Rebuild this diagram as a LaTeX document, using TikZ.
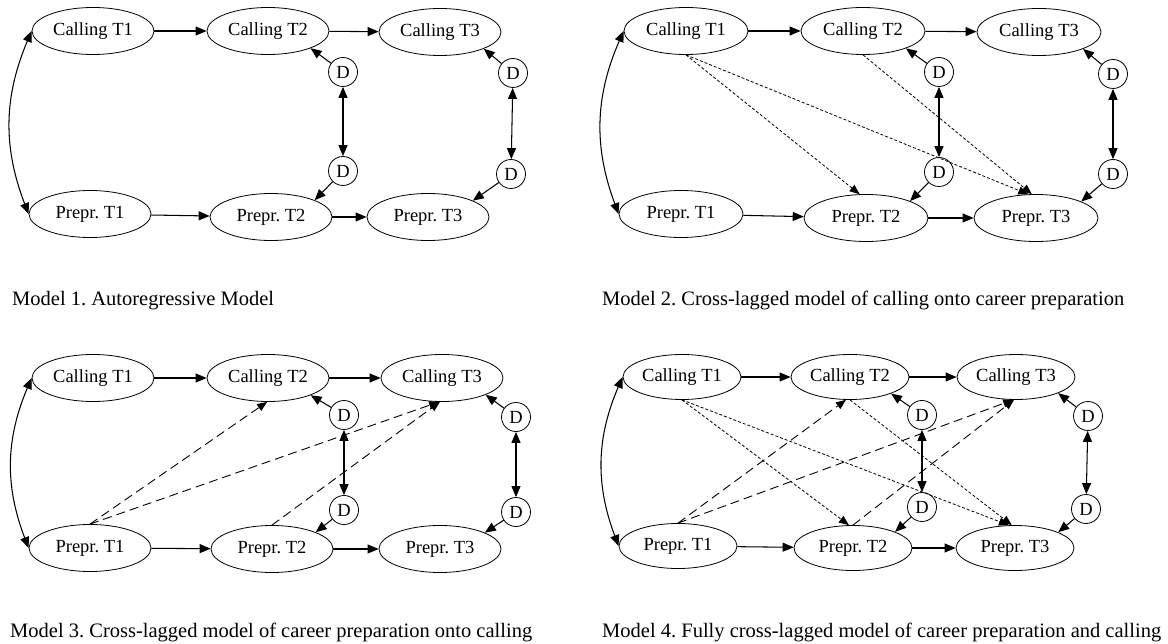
\documentclass[tikz,border=0pt]{standalone}
\usepackage{fontspec}
\setmainfont{Liberation Serif}
\usetikzlibrary{shapes.geometric,arrows.meta}
\frenchspacing
\begin{document}
\begin{tikzpicture}[x=1pt,y=-1pt,
  varnode/.style={ellipse,draw,line width=0.8pt,minimum width=122pt,minimum height=47pt,inner sep=0pt,font=\fontsize{18.5}{22}\selectfont},
  dnode/.style={circle,draw,line width=0.8pt,minimum size=29pt,inner sep=0pt,font=\fontsize{18.5}{22}\selectfont},
  pathar/.style={line width=1.05pt,-{Triangle[length=11pt,width=9pt]}},
  cov/.style={line width=1.05pt,{Triangle[length=11pt,width=9pt]}-{Triangle[length=11pt,width=9pt]}},
  dotx/.style={line width=0.8pt,dash pattern=on 3pt off 2pt,-{Triangle[length=10pt,width=8pt]}},
  dashx/.style={line width=0.9pt,dash pattern=on 9pt off 5pt,-{Triangle[length=10pt,width=8pt]}},
  captxt/.style={anchor=base west,inner sep=0pt,font=\fontsize{20.5}{24}\selectfont}
]
\useasboundingbox (0,0) rectangle (1168,644);

% ---------- Panel 1 ----------
\node[varnode] (a-c1) at (93,31) {Calling T1};
\node[varnode] (a-c2) at (268,31) {Calling T2};
\node[varnode] (a-c3) at (440,32) {Calling T3};
\node[varnode] (a-p1) at (90,214) {Prepr. T1};
\node[varnode] (a-p2) at (271,217) {Prepr. T2};
\node[varnode] (a-p3) at (428,217) {Prepr. T3};
\node[dnode] (a-d1) at (343,72) {D};
\node[dnode] (a-d2) at (343,171) {D};
\node[dnode] (a-d3) at (513,73) {D};
\node[dnode] (a-d4) at (511,174) {D};
\draw[pathar] (a-c1) -- (a-c2);
\draw[pathar] (a-c2) -- (a-c3);
\draw[pathar] (a-p1) -- (a-p2);
\draw[pathar] (a-p2) -- (a-p3);
\draw[cov] (a-c1.west) to[bend right=22] (a-p1.west);
\draw[pathar] (a-d1) -- (a-c2.-22);
\draw[pathar] (a-d2) -- (a-p2.21);
\draw[pathar] (a-d3) -- (a-c3.-21);
\draw[pathar] (a-d4) -- (a-p3.20);
\draw[cov] (a-d1) -- (a-d2);
\draw[cov] (a-d3) -- (a-d4);
\node[captxt] (a-cap) at (12,306) {Model 1. Autoregressive Model};

% ---------- Panel 2 ----------
\begin{scope}[varnode/.append style={minimum width=124pt}]
\node[varnode] (b-c1) at (686,31) {Calling T1};
\node[varnode] (b-c2) at (863,31) {Calling T2};
\node[varnode] (b-c3) at (1039,32) {Calling T3};
\node[varnode] (b-p1) at (681,214) {Prepr. T1};
\node[varnode] (b-p2) at (866,218) {Prepr. T2};
\node[varnode] (b-p3) at (1036,218) {Prepr. T3};
\end{scope}
\node[dnode] (b-d1) at (939,72) {D};
\node[dnode] (b-d2) at (939,172) {D};
\node[dnode] (b-d3) at (1113,74) {D};
\node[dnode] (b-d4) at (1113,174) {D};
\draw[pathar] (b-c1) -- (b-c2);
\draw[pathar] (b-c2) -- (b-c3);
\draw[pathar] (b-p1) -- (b-p2);
\draw[pathar] (b-p2) -- (b-p3);
\draw[cov] (b-c1.west) to[bend right=22] (b-p1.west);
\draw[pathar] (b-d1) -- (b-c2.-22);
\draw[pathar] (b-d2) -- (b-p2.21);
\draw[pathar] (b-d3) -- (b-c3.-21);
\draw[pathar] (b-d4) -- (b-p3.20);
\draw[cov] (b-d1) -- (b-d2);
\draw[cov] (b-d3) -- (b-d4);
\draw[dotx] (b-c1.south) -- (b-p2.105);
\draw[dotx] (b-c1.south) -- (b-p3.108);
\draw[dotx] (b-c2.south) -- (b-p3.100);
\node[captxt] (b-cap) at (602,306) {Model 2. Cross-lagged model of calling onto career preparation};

% ---------- Panel 3 ----------
\node[varnode] (c-c1) at (93,378) {Calling T1};
\node[varnode] (c-c2) at (268,378) {Calling T2};
\node[varnode] (c-c3) at (442,378) {Calling T3};
\node[varnode] (c-p1) at (90,548) {Prepr. T1};
\node[varnode] (c-p2) at (272,549) {Prepr. T2};
\node[varnode] (c-p3) at (440,549) {Prepr. T3};
\node[dnode] (c-d1) at (344,415) {D};
\node[dnode] (c-d2) at (344,510) {D};
\node[dnode] (c-d3) at (516,417) {D};
\node[dnode] (c-d4) at (516,512) {D};
\draw[pathar] (c-c1) -- (c-c2);
\draw[pathar] (c-c2) -- (c-c3);
\draw[pathar] (c-p1) -- (c-p2);
\draw[pathar] (c-p2) -- (c-p3);
\draw[cov] (c-c1.west) to[bend right=22] (c-p1.west);
\draw[pathar] (c-d1) -- (c-c2.-22);
\draw[pathar] (c-d2) -- (c-p2.21);
\draw[pathar] (c-d3) -- (c-c3.-21);
\draw[pathar] (c-d4) -- (c-p3.20);
\draw[cov] (c-d1) -- (c-d2);
\draw[cov] (c-d3) -- (c-d4);
\draw[dashx] (c-p1.north) -- (c-c2.-92);
\draw[dashx] (c-p1.north) -- (c-c3.-97);
\draw[dashx] (c-p2.north) -- (c-c3.-95);
\node[captxt] (c-cap) at (10,637) {Model 3. Cross-lagged model of career preparation onto calling};

% ---------- Panel 4 ----------
\begin{scope}[varnode/.append style={minimum width=118pt,minimum height=45pt}]
\node[varnode] (d-c1) at (682,377) {Calling T1};
\node[varnode] (d-c2) at (850,377) {Calling T2};
\node[varnode] (d-c3) at (1016,377) {Calling T3};
\node[varnode] (d-p1) at (678,546) {Prepr. T1};
\node[varnode] (d-p2) at (853,548) {Prepr. T2};
\node[varnode] (d-p3) at (1015,548) {Prepr. T3};
\end{scope}
\node[dnode] (d-d1) at (922,415) {D};
\node[dnode] (d-d2) at (922,507) {D};
\node[dnode] (d-d3) at (1088,416) {D};
\node[dnode] (d-d4) at (1086,509) {D};
\draw[pathar] (d-c1) -- (d-c2);
\draw[pathar] (d-c2) -- (d-c3);
\draw[pathar] (d-p1) -- (d-p2);
\draw[pathar] (d-p2) -- (d-p3);
\draw[cov] (d-c1.west) to[bend right=22] (d-p1.west);
\draw[pathar] (d-d1) -- (d-c2.-22);
\draw[pathar] (d-d2) -- (d-p2.21);
\draw[pathar] (d-d3) -- (d-c3.-21);
\draw[pathar] (d-d4) -- (d-p3.20);
\draw[cov] (d-d1) -- (d-d2);
\draw[cov] (d-d3) -- (d-d4);
\draw[dotx] (d-c1.south) -- (d-p2.100);
\draw[dotx] (d-c1.south) -- (d-p3.105);
\draw[dotx] (d-c2.south) -- (d-p3.98);
\draw[dashx] (d-p1.north) -- (d-c2.-100);
\draw[dashx] (d-p1.north) -- (d-c3.-97);
\draw[dashx] (d-p2.north) -- (d-c3.-95);
\node[captxt] (d-cap) at (602,637) {Model 4. Fully cross-lagged model of career preparation and calling};
\end{tikzpicture}
\end{document}
